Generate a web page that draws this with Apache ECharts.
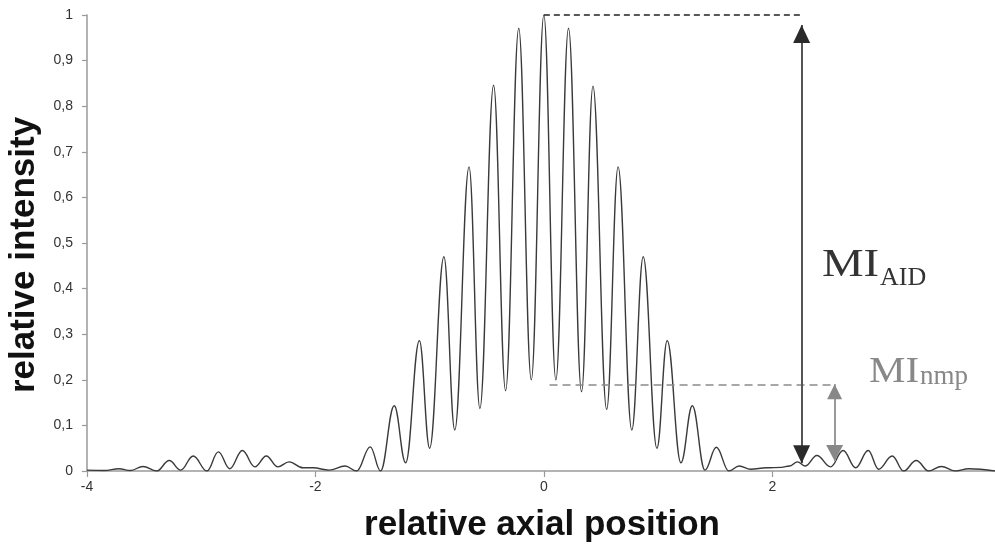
<!DOCTYPE html>
<html>
<head>
<meta charset="utf-8">
<script src="https://cdn.jsdelivr.net/npm/echarts@6/dist/echarts.min.js"></script>
<style>
  html, body { margin: 0; padding: 0; background: #fff; }
  #chart { width: 995px; height: 546px; }
</style>
</head>
<body>
<div id="chart"></div>
<script>
// peaks and troughs, [relative axial position, relative intensity]
const lobesLeft = [
  [-4.0, 0.002], [-3.85, 0.001], [-3.72, 0.005], [-3.62, 0.001], [-3.51, 0.01],
  [-3.39, 0.0], [-3.28, 0.023], [-3.18, 0.002], [-3.07, 0.033], [-2.95, 0.0],
  [-2.85, 0.042], [-2.75, 0.005], [-2.64, 0.045], [-2.53, 0.009], [-2.43, 0.033],
  [-2.33, 0.009], [-2.23, 0.02], [-2.11, 0.007], [-2.02, 0.007], [-1.88, 0.002],
  [-1.74, 0.011], [-1.64, 0.0]
];
const mainLobe = [
  [-1.52, 0.053], [-1.43, 0.0], [-1.31, 0.143], [-1.21, 0.018], [-1.09, 0.286],
  [-1.0, 0.05], [-0.875, 0.47], [-0.78, 0.09], [-0.655, 0.667], [-0.56, 0.137],
  [-0.44, 0.846], [-0.335, 0.176], [-0.22, 0.971], [-0.11, 0.2], [0.0, 1.0],
  [0.105, 0.2], [0.216, 0.971], [0.33, 0.174], [0.43, 0.844], [0.55, 0.135],
  [0.65, 0.667], [0.77, 0.09], [0.87, 0.47], [0.99, 0.05], [1.08, 0.286],
  [1.2, 0.018], [1.3, 0.143], [1.41, 0.002], [1.51, 0.052]
];
const lobesRight = [
  [1.62, 0.0], [1.71, 0.011], [1.81, 0.004], [1.95, 0.007], [2.08, 0.008],
  [2.15, 0.011], [2.22, 0.02], [2.29, 0.011], [2.39, 0.034], [2.51, 0.009],
  [2.62, 0.045], [2.73, 0.007], [2.84, 0.045], [2.93, 0.004], [3.05, 0.033],
  [3.15, 0.0], [3.26, 0.023], [3.37, 0.0], [3.48, 0.01], [3.6, 0.0],
  [3.72, 0.005], [3.95, 0.0]
];

// annotation lines
const topDash = [[0.0, 1.0], [2.27, 1.0]];
const nmpDash = [[0.05, 0.19], [2.55, 0.19]];
const aidArrow = [[2.257, 0.978], [2.257, 0.017]];
const nmpArrow = [[2.546, 0.19], [2.546, 0.022]];

const curve = lobesLeft.concat(mainLobe, lobesRight);

function fmtY(v) {
  return String(Number(v.toFixed(1))).replace('.', ',');
}

const chart = echarts.init(document.getElementById('chart'));

function head(pt, up, size, color) {
  return {
    coord: pt,
    symbol: 'triangle',
    symbolSize: size,
    symbolRotate: up ? 0 : 180,
    symbolOffset: [0, up ? size[1] / 2 : -size[1] / 2],
    itemStyle: { color: color }
  };
}

chart.setOption({
  animation: false,
  grid: { left: 87, right: 0, top: 15, bottom: 75 },
  xAxis: {
    type: 'value',
    min: -4,
    max: 3.95,
    interval: 2,
    axisLine: { onZero: false, lineStyle: { color: '#9a9a9a', width: 1.5 } },
    axisTick: { length: 6, lineStyle: { color: '#9a9a9a', width: 1.2 } },
    axisLabel: {
      color: '#333', fontSize: 14, margin: 9,
      fontFamily: 'Liberation Sans',
      showMaxLabel: false,
      formatter: (v) => (v % 2 === 0 ? String(v) : '')
    },
    splitLine: { show: false }
  },
  yAxis: {
    type: 'value',
    min: 0,
    max: 1,
    interval: 0.1,
    axisLine: { show: true, onZero: false, lineStyle: { color: '#9a9a9a', width: 1.5 } },
    axisTick: { show: true, length: 5, lineStyle: { color: '#9a9a9a', width: 1.2 } },
    axisLabel: {
      color: '#333', fontSize: 14, margin: 14,
      fontFamily: 'Liberation Sans',
      formatter: fmtY
    },
    splitLine: { show: false }
  },
  series: [
    {
      type: 'line',
      data: curve,
      smooth: 0.4,
      smoothMonotone: 'x',
      showSymbol: false,
      lineStyle: { color: '#3a3a3a', width: 1.4 },
      markLine: {
        silent: true,
        symbol: 'none',
        label: { show: false },
        data: [
          [{ coord: topDash[0], lineStyle: { color: '#222', width: 1.5, type: [6, 4] } }, { coord: topDash[1] }],
          [{ coord: nmpDash[0], lineStyle: { color: '#8a8a8a', width: 1.5, type: [8, 5] } }, { coord: nmpDash[1] }],
          [{ coord: aidArrow[0], lineStyle: { color: '#555', width: 2, type: 'solid' } }, { coord: aidArrow[1] }],
          [{ coord: nmpArrow[0], lineStyle: { color: '#999', width: 2, type: 'solid' } }, { coord: nmpArrow[1] }]
        ]
      },
      markPoint: {
        silent: true,
        label: { show: false },
        data: [
          head(aidArrow[0], true, [17, 18], '#2a2a2a'),
          head(aidArrow[1], false, [17, 18], '#2a2a2a'),
          head(nmpArrow[0], true, [15, 15], '#888'),
          head(nmpArrow[1], false, [17, 16], '#888')
        ]
      }
    }
  ],
  graphic: [
    {
      type: 'text', x: 822, y: 265.5, scaleX: 1.17,
      style: { text: 'MI', font: '40px "Liberation Serif"', fill: '#333', verticalAlign: 'middle' }
    },
    {
      type: 'text', x: 880, y: 278,
      style: { text: 'AID', font: '26px "Liberation Serif"', fill: '#333', verticalAlign: 'middle' }
    },
    {
      type: 'text', x: 869, y: 373, scaleX: 1.17,
      style: { text: 'MI', font: '35px "Liberation Serif"', fill: '#888', verticalAlign: 'middle' }
    },
    {
      type: 'text', x: 920, y: 377,
      style: { text: 'nmp', font: '27px "Liberation Serif"', fill: '#888', verticalAlign: 'middle' }
    },
    {
      type: 'text', x: 542, y: 525,
      style: {
        text: 'relative axial position', font: 'bold 35px "Liberation Sans"',
        fill: '#111', align: 'center', verticalAlign: 'middle'
      }
    },
    {
      type: 'text', x: 24, y: 255, rotation: Math.PI / 2,
      style: {
        text: 'relative intensity', font: 'bold 35px "Liberation Sans"',
        fill: '#111', align: 'center', verticalAlign: 'middle'
      }
    }
  ]
});
</script>
</body>
</html>
